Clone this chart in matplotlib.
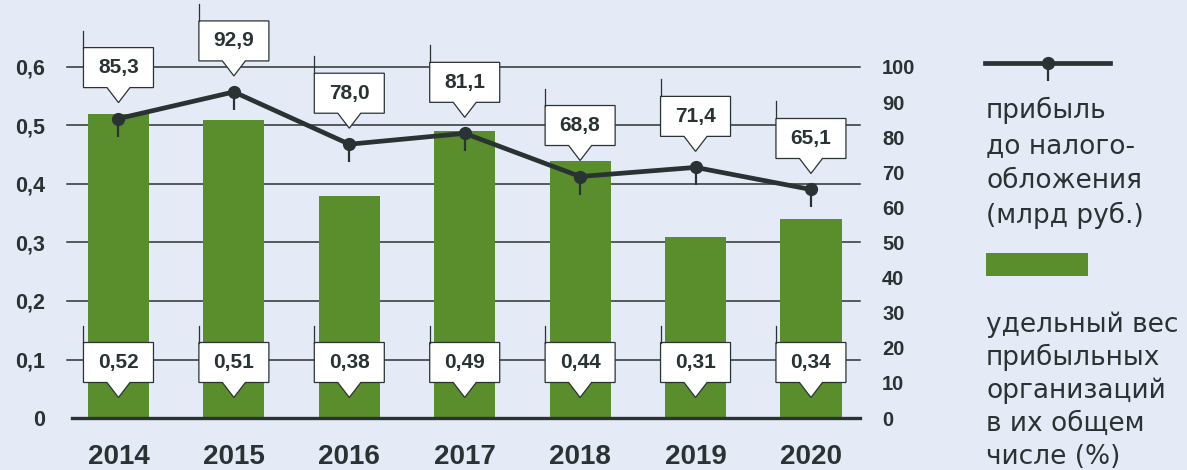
import matplotlib
matplotlib.use('Agg')
import matplotlib.pyplot as plt
import matplotlib.transforms as mtransforms
from matplotlib.patches import Polygon, Rectangle
from matplotlib.lines import Line2D
from matplotlib.path import Path
from matplotlib.markers import MarkerStyle

# ---------------- data ----------------
years = ['2014', '2015', '2016', '2017', '2018', '2019', '2020']
profit = [85.3, 92.9, 78.0, 81.1, 68.8, 71.4, 65.1]
profit_labels = ['85,3', '92,9', '78,0', '81,1', '68,8', '71,4', '65,1']
share = [0.52, 0.51, 0.38, 0.49, 0.44, 0.31, 0.34]
share_labels = ['0,52', '0,51', '0,38', '0,49', '0,44', '0,31', '0,34']
left_ticks = [0, 0.1, 0.2, 0.3, 0.4, 0.5, 0.6]
left_tick_labels = ['0', '0,1', '0,2', '0,3', '0,4', '0,5', '0,6']
right_ticks = [0, 10, 20, 30, 40, 50, 60, 70, 80, 90, 100]
right_tick_labels = [str(v) for v in right_ticks]
legend_line_text = ['прибыль', 'до налого-', 'обложения', '(млрд руб.)']
legend_bar_text = ['удельный вес', 'прибыльных', 'организаций', 'в их общем', 'числе (%)']

# ---------------- style ----------------
BG = '#E4EBF6'
GREEN = '#5A8E2C'
DARK = '#2A3333'
NUMFONT = 'Liberation Sans'
TXTFONT = 'DejaVu Sans'

W, H = 1187, 470
fig = plt.figure(figsize=(W / 100, H / 100), dpi=100, facecolor=BG)
L, R, T, B = 67, 860, 67, 418
ax = fig.add_axes([L / W, 1 - B / H, (R - L) / W, (B - T) / H])
ax.set_facecolor('none')
ax.set_xlim(-0.446, 6.425)
ax.set_ylim(0, 0.6)
for s in ax.spines.values():
    s.set_visible(False)
ax.set_xticks([])
ax.set_yticks(left_ticks)
ax.set_yticklabels(left_tick_labels, fontsize=15.5, fontweight='bold',
                   family=NUMFONT, color=DARK)
ax.tick_params(axis='y', length=0, pad=16)

for v in left_ticks[1:]:
    ax.axhline(v, color=DARK, lw=1.1, zorder=1, clip_on=False)
ax.axhline(0, xmin=5 / (R - L), xmax=1, color=DARK, lw=2.4, zorder=4, clip_on=False)

x = list(range(len(years)))
ax.bar(x, share, width=0.53, color=GREEN, zorder=2)

ax2 = ax.twinx()
ax2.set_facecolor('none')
ax2.set_ylim(0, 100)
for s in ax2.spines.values():
    s.set_visible(False)
ax2.set_yticks(right_ticks)
ax2.set_yticklabels(right_tick_labels, fontsize=14.5, fontweight='bold',
                    family=NUMFONT, color=DARK)
ax2.tick_params(axis='y', length=0, pad=16)

tick_marker = MarkerStyle(Path([(0, 0), (0, -1)]))
ax2.plot(x, profit, color=DARK, lw=3.4, marker='o', ms=8.5, zorder=3, solid_capstyle='round')
ax2.plot(x, profit, ls='none', marker=tick_marker, ms=26, mew=1.6, color=DARK, zorder=3)

ident = mtransforms.IdentityTransform()


def callout(cx, bottom, text):
    left, right = cx - 35, cx + 35
    top = bottom + 40
    verts = [(left, top), (left, bottom), (cx - 11.5, bottom), (cx, bottom - 15),
             (cx + 11.5, bottom), (right, bottom), (right, top)]
    fig.add_artist(Polygon(verts, closed=True, facecolor='white', edgecolor=DARK,
                           lw=0.9, transform=ident, zorder=6))
    fig.add_artist(Line2D([left, left], [top, top + 17], color=DARK, lw=0.9,
                          transform=ident, zorder=6))
    fig.text(cx, bottom + 20, text, transform=ident, ha='center', va='center',
             fontsize=15, fontweight='bold', family=NUMFONT, color=DARK, zorder=7)


for i in x:
    mx, my = ax2.transData.transform((i, profit[i]))
    callout(mx, my + 31, profit_labels[i])
    bx, gy = ax.transData.transform((i, 0.1))
    callout(bx, gy - 23, share_labels[i])
    fig.text(bx, H - 444, years[i], transform=ident, ha='center', va='top',
             fontsize=20, fontweight='bold', family=NUMFONT, color=DARK)

# ---------------- legend ----------------
fig.add_artist(Line2D([985, 1110], [H - 63, H - 63], color=DARK, lw=3.4,
                      transform=ident, zorder=6))
fig.add_artist(Line2D([1048], [H - 63], color=DARK, marker='o', ms=8.5,
                      transform=ident, zorder=6))
fig.add_artist(Line2D([1048], [H - 63], color=DARK, marker=tick_marker, ms=26, mew=1.6,
                      transform=ident, zorder=6))
for j, s in enumerate(legend_line_text):
    fig.text(986, H - (118 + 35 * j), s, transform=ident, ha='left', va='baseline',
             fontsize=19, family=TXTFONT, color=DARK)

fig.add_artist(Rectangle((986, H - 276), 102, 23, facecolor=GREEN, edgecolor='none',
                         transform=ident, zorder=6))
for j, s in enumerate(legend_bar_text):
    fig.text(986, H - (332 + 33 * j), s, transform=ident, ha='left', va='baseline',
             fontsize=19, family=TXTFONT, color=DARK)

fig.savefig('out.png', dpi=100, facecolor=BG)
